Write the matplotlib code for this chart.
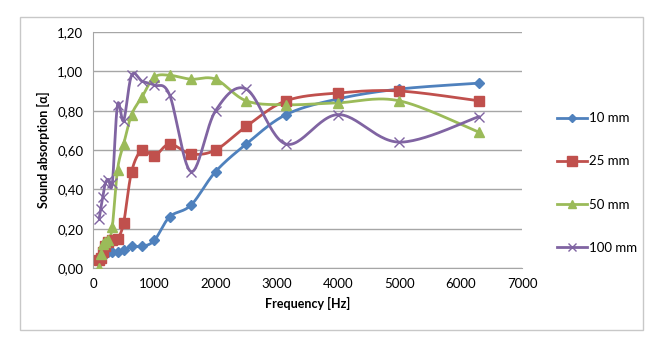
import numpy as np
import matplotlib
matplotlib.use("Agg")
import matplotlib.pyplot as plt
from matplotlib.lines import Line2D
from matplotlib.patches import Rectangle

plt.rcParams['font.family'] = ['Lato', 'DejaVu Sans']

freq = [100, 125, 160, 200, 250, 315, 400, 500, 630, 800, 1000, 1250, 1600,
        2000, 2500, 3150, 4000, 5000, 6300]
a10 = [0.03, 0.05, 0.06, 0.07, 0.08, 0.08, 0.08, 0.09, 0.11, 0.11, 0.14, 0.26,
       0.32, 0.49, 0.63, 0.78, 0.86, 0.91, 0.94]
a25 = [0.04, 0.05, 0.08, 0.11, 0.13, 0.14, 0.15, 0.23, 0.49, 0.60, 0.57, 0.63,
       0.58, 0.60, 0.72, 0.85, 0.89, 0.90, 0.85]
a50 = [0.00, 0.07, 0.12, 0.13, 0.14, 0.21, 0.50, 0.63, 0.78, 0.87, 0.97, 0.98,
       0.96, 0.96, 0.85, 0.83, 0.84, 0.85, 0.69]
a100 = [0.25, 0.30, 0.36, 0.43, 0.45, 0.43, 0.83, 0.75, 0.98, 0.95, 0.93, 0.88,
        0.49, 0.80, 0.91, 0.63, 0.78, 0.64, 0.77]
series_labels = ['10 mm', '25 mm', '50 mm', '100 mm']
colors = ['#4F81BD', '#C0504D', '#9BBB59', '#8064A2']
markers = ['D', 's', '^', 'x']
msizes = [5, 7.5, 7, 7]
x_ticks = [0, 1000, 2000, 3000, 4000, 5000, 6000, 7000]
y_ticks = [0.0, 0.2, 0.4, 0.6, 0.8, 1.0, 1.2]
y_tick_labels = ['0,00', '0,20', '0,40', '0,60', '0,80', '1,00', '1,20']


def smooth(x, y, n=30):
    x = np.asarray(x, float)
    y = np.asarray(y, float)
    P = np.column_stack([x, y])
    out = [P[0]]
    m = len(P)
    for i in range(m - 1):
        p0 = P[i - 1] if i > 0 else P[i]
        p1 = P[i]
        p2 = P[i + 1]
        p3 = P[i + 2] if i + 2 < m else P[i + 1]
        c1 = p1 + (p2 - p0) / 6.0
        c2 = p2 - (p3 - p1) / 6.0
        t = np.linspace(0, 1, n)[1:, None]
        seg = ((1 - t) ** 3) * p1 + 3 * ((1 - t) ** 2) * t * c1 + 3 * (1 - t) * t ** 2 * c2 + t ** 3 * p2
        out.extend(seg)
    out = np.array(out)
    return out[:, 0], out[:, 1]


fig = plt.figure(figsize=(6.67, 3.52), dpi=100)
fig.patches.append(Rectangle((20 / 667, 1 - 330 / 352), 623 / 667, 313 / 352,
                             transform=fig.transFigure, fill=False,
                             edgecolor='#c8c8c8', lw=1.0))
ax = fig.add_axes([93 / 667, 1 - 268 / 352, (522 - 93) / 667, (268 - 32) / 352])

handles = []
for yv, lab, c, mk, ms in zip([a10, a25, a50, a100], series_labels, colors, markers, msizes):
    sx, sy = smooth(freq, yv)
    ax.plot(sx, sy, color=c, lw=2.0, solid_capstyle='round', zorder=3)
    if mk == 'x':
        ax.plot(freq, yv, ls='none', marker=mk, color=c, ms=ms, mew=1.0, zorder=4)
    else:
        ax.plot(freq, yv, ls='none', marker=mk, color=c, ms=ms, mec=c, zorder=4)
    handles.append(Line2D([0], [0], color=c, lw=2.0, marker=mk, ms=ms * 0.9,
                          mew=1.0))

ax.set_xlim(0, 7000)
ax.set_ylim(0, 1.2)
ax.set_xticks(x_ticks)
ax.set_xticklabels([str(v) for v in x_ticks])
ax.set_yticks(y_ticks)
ax.set_yticklabels(y_tick_labels)
ax.grid(axis='y', color='#a6a6a6', lw=1.0)
ax.set_axisbelow(True)
for s in ['top', 'right']:
    ax.spines[s].set_visible(False)
ax.spines['left'].set_color('#a6a6a6')
ax.spines['bottom'].set_color('#a6a6a6')
ax.tick_params(length=0, labelsize=9.5, pad=7, colors='#000000')
ax.set_xlabel('Frequency [Hz]', fontsize=9, fontweight='bold', labelpad=5)
ax.set_ylabel('Sound absorption [α]', fontsize=9, fontweight='bold', labelpad=5)

fig.legend(handles, series_labels, loc='center left',
           bbox_to_anchor=(545 / 667, 1 - 183 / 352), frameon=False,
           fontsize=9.5, labelspacing=2.35, handlelength=2.3, handletextpad=0.1)

fig.savefig('out.png', dpi=100)
